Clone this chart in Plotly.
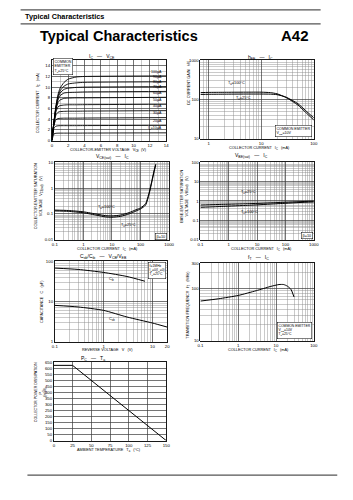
import math
import plotly.graph_objects as go

W, H = 353, 500
FONT = "Liberation Sans, Arial, sans-serif"

# ---------------- data ----------------
# Ic - Vce
vce_v = [0, 0.25, 0.5, 0.75, 1.0, 1.5, 2.0, 3.0, 4.0, 14.0]
ic_ib100 = [0, 3.5, 6.5, 8.6, 9.8, 10.9, 11.5, 11.9, 12.0, 12.1]
ic_ib90 = [0, 3.4, 6.3, 8.3, 9.3, 10.2, 10.6, 10.8, 10.9, 11.0]
ic_ib80 = [0, 3.4, 6.2, 8.0, 8.9, 9.6, 9.8, 9.95, 10.0, 10.1]
ic_ib70 = [0, 3.3, 6.0, 7.6, 8.4, 8.9, 9.0, 9.05, 9.1, 9.2]
ic_ib60 = [0, 3.3, 5.8, 7.1, 7.6, 7.9, 7.95, 8.0, 8.0, 8.1]
ic_ib50 = [0, 3.2, 5.4, 6.3, 6.55, 6.65, 6.7, 6.7, 6.72, 6.8]
ic_ib40 = [0, 3.1, 4.8, 5.3, 5.42, 5.47, 5.5, 5.5, 5.52, 5.6]
ic_ib30 = [0, 2.9, 3.9, 4.12, 4.17, 4.2, 4.2, 4.2, 4.22, 4.3]
ic_ib20 = [0, 2.3, 2.7, 2.77, 2.79, 2.8, 2.8, 2.8, 2.81, 2.85]
ic_ib10 = [0, 1.25, 1.37, 1.39, 1.4, 1.4, 1.4, 1.4, 1.41, 1.45]
ic_curves = [ic_ib100, ic_ib90, ic_ib80, ic_ib70, ic_ib60,
             ic_ib50, ic_ib40, ic_ib30, ic_ib20, ic_ib10]
ib_labels = ["100μA", "90μA", "80μA", "70μA", "60μA",
             "50μA", "40μA", "30μA", "20μA", "I<sub>B</sub>=10μA"]
vce_ticks = [0, 2, 4, 6, 8, 10, 12, 14]
ic_ticks = [0, 2, 4, 6, 8, 10, 12, 14]

# hFE - Ic
hfe_ic = [0.7, 1, 2, 5, 10, 15, 20, 30, 50, 70, 100]
hfe_100c = [150, 152, 153, 154, 154, 150, 140, 112, 72, 47, 30]
hfe_25c = [135, 136, 137, 138, 138, 137, 133, 114, 78, 52, 34]

# Vce(sat) - Ic
vcs_ic = [0.1, 0.3, 1, 3, 6, 10, 20, 40, 70, 100, 150, 200, 250, 300, 340]
vcs_100c = [0.14, 0.135, 0.12, 0.097, 0.085, 0.083, 0.09, 0.112, 0.145, 0.17, 0.25, 0.68, 2.0, 5.0, 8.5]
vcs_25c = [0.13, 0.125, 0.11, 0.088, 0.076, 0.074, 0.08, 0.1, 0.13, 0.155, 0.22, 0.6, 1.8, 4.5, 8.0]

# Vbe(sat) - Ic
vbs_ic = [0.1, 0.3, 1, 3, 10, 30, 100, 300, 1000]
vbs_25c = [0.62, 0.65, 0.68, 0.71, 0.75, 0.8, 0.86, 0.92, 0.98]
vbs_100c = [0.47, 0.5, 0.54, 0.58, 0.63, 0.69, 0.76, 0.83, 0.9]

# Cob/Cib - V
cib_v = [0.1, 0.3, 1, 3, 7]
cib_pf = [68, 63, 53, 42, 32]
cob_v = [0.1, 0.3, 1, 3, 10, 20]
cob_pf = [8.0, 7.3, 6.0, 4.1, 2.9, 2.3]

# fT - Ic
ft_ic = [0.1, 0.3, 1, 3, 7, 12, 16, 20, 25, 30]
ft_mhz = [57, 63, 73, 90, 108, 118, 118, 110, 95, 68]

# Pc - Ta
pc_ta = [0, 25, 150]
pc_mw = [625, 625, 0]
ta_ticks = [0, 25, 50, 75, 100, 125, 150]
pc_ticks = list(range(0, 651, 50))

# ---------------- helpers ----------------
def px(x):
    return x / W

def py(y):
    return 1 - y / H

def log_minor(lo, hi):
    vals = []
    d = 10 ** math.floor(math.log10(lo) - 1e-9)
    while d <= hi * 1.0001:
        for m in range(1, 10):
            v = m * d
            if lo * 0.999 <= v <= hi * 1.001 and m != 1:
                vals.append(v)
        d *= 10
    return vals

fig = go.Figure()
annotations = []
shapes = []

MAJ = "#3a3a3a"
MIN = "#8a8a8a"
TF = dict(family=FONT, size=4.3, color="black")


def axis(domain_px, rng, typ, tickvals, ticktext, minor_vals, anchor, vertical):
    a, b = domain_px
    if vertical:
        dom = [py(b), py(a)]
    else:
        dom = [px(a), px(b)]
    d = dict(domain=dom, range=rng, type=typ, anchor=anchor,
             showline=True, mirror=True, linecolor="black", linewidth=0.9,
             ticks="", tickvals=tickvals, ticktext=ticktext, tickfont=TF,
             showgrid=True, gridcolor=MAJ, gridwidth=0.7, zeroline=False,
             minor=dict(tickvals=minor_vals, showgrid=True, gridcolor=MIN,
                        gridwidth=0.45, ticks=""),
             fixedrange=True)
    return d


def ann(x, y, text, size=4.0, xanchor="center", yanchor="middle", angle=0,
        box=False, align="center"):
    a = dict(x=px(x), y=py(y), xref="paper", yref="paper", text=text,
             showarrow=False, xanchor=xanchor, yanchor=yanchor,
             textangle=angle, align=align,
             font=dict(family=FONT, size=size, color="black"))
    if box:
        a.update(bgcolor="white", bordercolor="black", borderwidth=0.5, borderpad=1)
    annotations.append(a)


def line(xs, ys, n, width=1.0):
    fig.add_trace(go.Scatter(x=xs, y=ys, mode="lines", xaxis=f"x{n}", yaxis=f"y{n}",
                             line=dict(color="black", width=width, shape="spline",
                                       smoothing=0.6),
                             hoverinfo="skip"))

layout_axes = {}

def set_axes(n, xdom, ydom, xr, xt, xtv, xtt, xmin, yr, yt, ytv, ytt, ymin):
    sx = "" if n == 1 else str(n)
    layout_axes[f"xaxis{sx}"] = axis(xdom, xr, xt, xtv, xtt, xmin, f"y{sx}", False)
    layout_axes[f"yaxis{sx}"] = axis(ydom, yr, yt, ytv, ytt, ymin, f"x{sx}", True)

# ---- Panel 1: Ic - Vce ----
set_axes(1, (50, 167), (59, 140),
         [0, 14], "linear", vce_ticks, [str(v) for v in vce_ticks], [1, 3, 5, 7, 9, 11, 13],
         [0, 15], "linear", ic_ticks, [str(v) for v in ic_ticks], [1, 3, 5, 7, 9, 11, 13, 15])
for c in ic_curves:
    fig.add_trace(go.Scatter(x=vce_v, y=c, mode="lines", xaxis="x", yaxis="y",
                             line=dict(color="black", width=0.9, shape="spline", smoothing=0.5),
                             hoverinfo="skip"))
for c, lab in zip(ic_curves, ib_labels):
    annotations.append(dict(x=13.7, y=c[-1], xref="x", yref="y", text=lab,
                            showarrow=False, xanchor="right", yanchor="bottom", yshift=0.3,
                            font=dict(family=FONT, size=3.6, color="black")))
ann(61, 65, "COMMON<br>EMITTER<br>T<sub>a</sub>=25°C", size=3.6, box=True, align="left")
ann(101, 55, "I<sub>C</sub>   —   V<sub>CE</sub>", size=5)
ann(108, 150, "COLLECTOR-EMITTER VOLTAGE   V<sub>CE</sub>  (V)", size=3.8)
ann(37, 102, "COLLECTOR CURRENT   I<sub>C</sub>   (mA)", size=3.8, angle=-90)

# ---- Panel 2: hFE - Ic ----
set_axes(2, (202, 318), (59, 138),
         [math.log10(0.7), 2], "log", [1, 10, 100], ["1", "10", "100"], log_minor(0.7, 100),
         [1, 3], "log", [10, 100, 1000], ["10", "100", "1000"], log_minor(10, 1000))
line(hfe_ic, hfe_100c, 2)
line(hfe_ic, hfe_25c, 2)
ann(239, 82, "T<sub>a</sub>=100°C", size=3.8)
ann(246, 97, "T<sub>a</sub>=25°C", size=3.8)
ann(297, 130, "COMMON EMITTER<br>V<sub>CE</sub>=10V", size=3.6, box=True, align="left")
ann(263, 56, "h<sub>FE</sub>   —   I<sub>C</sub>", size=5)
ann(262, 148, "COLLECTOR CURRENT   I<sub>C</sub>   (mA)", size=3.8)
ann(190, 82, "DC CURRENT GAIN   h<sub>FE</sub>", size=3.8, angle=-90)

# ---- Panel 3: Vce(sat) - Ic ----
set_axes(3, (53, 170), (162, 240),
         [-1, 3], "log", [0.1, 1, 10, 100, 1000], ["0.1", "1", "10", "100", "1000"], log_minor(0.1, 1000),
         [-2, 1], "log", [0.01, 0.1, 1, 10], ["0.01", "0.1", "1", "10"], log_minor(0.01, 10))
line(vcs_ic, vcs_100c, 3)
line(vcs_ic, vcs_25c, 3)
ann(106, 208, "T<sub>a</sub>=100°C", size=3.8)
ann(128, 226, "T<sub>a</sub>=25°C", size=3.8)
ann(162, 237, "β=10", size=3.8, box=True)
ann(112, 156, "V<sub>CE(sat)</sub>   —   I<sub>C</sub>", size=5)
ann(107, 250, "COLLECTOR CURRENT   I<sub>C</sub>   (mA)", size=3.8)
ann(37, 196, "COLLECTOR-EMITTER SATURATION<br>VOLTAGE   V<sub>CE(sat)</sub>   (V)", size=3.8, angle=-90)

# ---- Panel 4: Vbe(sat) - Ic ----
set_axes(4, (202, 318), (162, 240),
         [-1, 3], "log", [0.1, 1, 10, 100, 1000], ["0.1", "1", "10", "100", "1000"], log_minor(0.1, 1000),
         [-2, 2], "log", [0.01, 0.1, 1, 10, 100], ["0.01", "0.1", "1", "10", "100"], log_minor(0.01, 100))
line(vbs_ic, vbs_25c, 4)
line(vbs_ic, vbs_100c, 4)
ann(251, 192, "T<sub>a</sub>=25°C", size=3.8)
ann(252, 213, "T<sub>a</sub>=100°C", size=3.8)
ann(311, 236, "β=10", size=3.8, box=True)
ann(254, 155, "V<sub>BE(sat)</sub>   —   I<sub>C</sub>", size=5)
ann(264, 250, "COLLECTOR CURRENT   I<sub>C</sub>   (mA)", size=3.8)
ann(186, 196, "BASE-EMITTER SATURATION<br>VOLTAGE   V<sub>BE(sat)</sub>   (V)", size=3.8, angle=-90)

# ---- Panel 5: Cob/Cib - V ----
set_axes(5, (53, 168), (262, 343),
         [-1, math.log10(20)], "log", [0.1, 1, 10, 20], ["0.1", "1", "10", "20"], log_minor(0.1, 20),
         [0, 2], "log", [1, 10, 100], ["1", "10", "100"], log_minor(1, 100))
line(cib_v, cib_pf, 5)
line(cob_v, cob_pf, 5)
ann(111, 280, "C<sub>ib</sub>", size=3.8)
ann(112, 321, "C<sub>ob</sub>", size=3.8)
ann(158, 271, "f=1MHz<br>I<sub>E</sub>=0(I<sub>C</sub>=0)<br>T<sub>a</sub>=25°C", size=3.4, box=True, align="left")
ann(103, 257, "C<sub>ob</sub>/C<sub>ib</sub>   —   V<sub>CB</sub>/V<sub>EB</sub>", size=5)
ann(107, 352, "REVERSE VOLTAGE   V   (V)", size=3.8)
ann(40, 303, "CAPACITANCE   C   (pF)", size=3.8, angle=-90)

# ---- Panel 6: fT - Ic ----
set_axes(6, (202, 318), (264, 342),
         [-1, 2], "log", [0.1, 1, 10, 100], ["0.1", "1", "10", "100"], log_minor(0.1, 100),
         [1, math.log10(300)], "log", [10, 100, 300], ["10", "100", "300"], log_minor(10, 300))
line(ft_ic, ft_mhz, 6)
ann(298, 332, "COMMON EMITTER<br>V<sub>CE</sub>=10V<br>T<sub>a</sub>=25°C", size=3.4, box=True, align="left")
ann(261, 258, "f<sub>T</sub>   —   I<sub>C</sub>", size=5)
ann(261, 352, "COLLECTOR CURRENT   I<sub>C</sub>   (mA)", size=3.8)
ann(190, 306, "TRANSITION FREQUENCY   f<sub>T</sub>   (MHz)", size=3.8, angle=-90)

# ---- Panel 7: Pc - Ta ----
set_axes(7, (52, 167), (364, 443),
         [0, 150], "linear", ta_ticks, [str(v) for v in ta_ticks], [],
         [0, 650], "linear", pc_ticks, [str(v) for v in pc_ticks], [])
fig.add_trace(go.Scatter(x=pc_ta, y=pc_mw, mode="lines", xaxis="x7", yaxis="y7",
                         line=dict(color="black", width=1.0), hoverinfo="skip"))
ann(92, 360, "P<sub>C</sub>   —   T<sub>a</sub>", size=5)
ann(108, 453, "AMBIENT TEMPERATURE   T<sub>a</sub>   (°C)", size=3.8)
ann(38, 394, "COLLECTOR POWER DISSIPATION<br>P<sub>C</sub><br>(mW)", size=3.6, angle=-90)

# ---- header ----
ann(20, 15, "<b>Typical Characteristics</b>", size=7.3, xanchor="left")
ann(36, 34, "<b>Typical Characteristics</b>", size=14.5, xanchor="left")
ann(282, 34, "<b>A42</b>", size=15, xanchor="left")
for yy, x0, x1 in [(8, 18, 325), (22, 18, 325), (478, 25, 342)]:
    shapes.append(dict(type="line", xref="paper", yref="paper",
                       x0=px(x0), x1=px(x1), y0=py(yy), y1=py(yy),
                       line=dict(color="#555555", width=1.2)))

fig.update_layout(width=W, height=H, autosize=False,
                  margin=dict(l=0, r=0, t=0, b=0, pad=0),
                  paper_bgcolor="white", plot_bgcolor="white",
                  showlegend=False, annotations=annotations, shapes=shapes,
                  font=dict(family=FONT, color="black"),
                  **layout_axes)

fig.write_html("out.html", config={"displayModeBar": False, "staticPlot": True})
